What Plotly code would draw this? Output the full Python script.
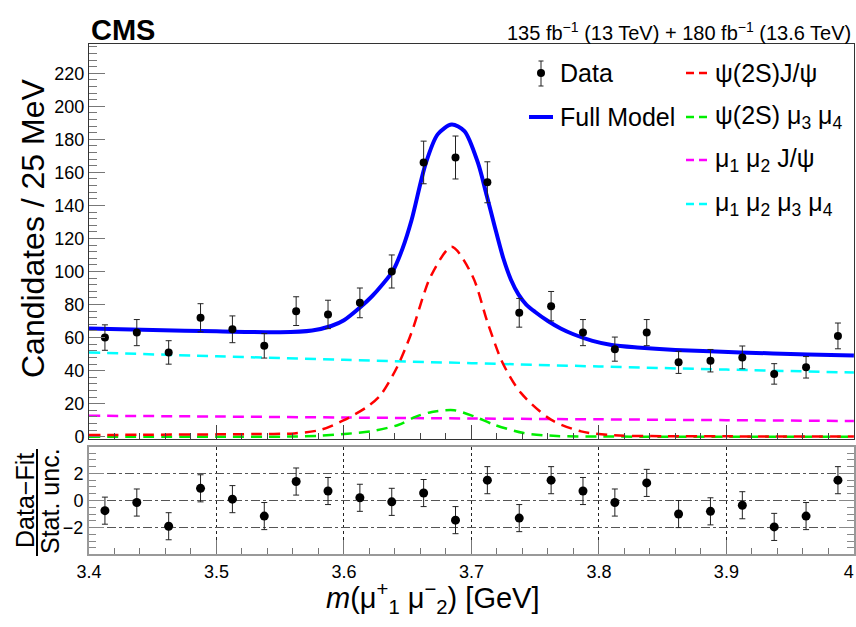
import plotly.graph_objects as go

# ---------------- data ----------------
bin_centers = [3.4125, 3.4375, 3.4625, 3.4875, 3.5125, 3.5375, 3.5625, 3.5875,
               3.6125, 3.6375, 3.6625, 3.6875, 3.7125, 3.7375, 3.7625, 3.7875,
               3.8125, 3.8375, 3.8625, 3.8875, 3.9125, 3.9375, 3.9625, 3.9875]
counts = [60, 63, 51, 72, 65, 55, 76, 74, 81, 100, 166, 169,
          154, 75, 79, 63, 53, 63, 45, 46, 48, 38, 42, 61]
count_err = [7.7, 7.9, 7.1, 8.5, 8.1, 7.4, 8.7, 8.6, 9.0, 10.0, 12.9, 13.0,
             12.4, 8.7, 8.9, 7.9, 7.3, 7.9, 6.7, 6.8, 6.9, 6.2, 6.5, 7.8]
pulls = [-0.75, -0.15, -1.9, 0.9, 0.1, -1.15, 1.4, 0.7, 0.2, -0.1, 0.55, -1.45,
         1.5, -1.3, 1.5, 0.7, -0.15, 1.3, -1.0, -0.8, -0.35, -1.95, -1.15, 1.5]
pull_err = [1.0, 1.0, 1.0, 1.0, 1.0, 1.0, 1.0, 1.0, 1.0, 1.0, 1.0, 1.0,
            1.0, 1.0, 1.0, 1.0, 1.0, 1.0, 1.0, 1.0, 1.0, 1.0, 1.0, 1.0]

full_x = [3.400, 3.450, 3.500, 3.550, 3.575, 3.590, 3.600, 3.613, 3.622, 3.630,
          3.6385, 3.646, 3.653, 3.664, 3.6735, 3.6845, 3.6945, 3.705, 3.712,
          3.718, 3.725, 3.731, 3.737, 3.743, 3.750, 3.760, 3.770, 3.780,
          3.795, 3.810, 3.830, 3.860, 3.911, 3.964, 4.000]
full_y = [65.5, 64.6, 63.8, 63.2, 64.3, 67.0, 70.5, 78.5, 85.0, 92.0,
          100.5, 114.0, 131.0, 165.0, 183.0, 189.0, 185.0, 166.0, 146.0,
          128.0, 108.0, 95.0, 86.0, 80.0, 75.5, 70.0, 65.5, 62.0,
          58.0, 55.5, 54.0, 52.5, 51.0, 49.8, 49.2]

sig_x = [3.400, 3.450, 3.500, 3.530, 3.561, 3.582, 3.600, 3.619, 3.629, 3.642,
         3.653, 3.663, 3.668, 3.6845, 3.701, 3.7127, 3.7245, 3.7388, 3.7624,
         3.786, 3.812, 3.850, 3.900, 4.000]
sig_y = [1.0, 1.2, 1.4, 1.6, 2.0, 4.2, 10.0, 18.5, 25.5, 42.6,
         63.0, 87.0, 97.0, 115.0, 97.0, 69.0, 44.6, 26.5, 10.3,
         3.2, 0.8, 0.3, 0.2, 0.1]

psi_mumu_x = [3.400, 3.500, 3.561, 3.582, 3.603, 3.621, 3.643, 3.656, 3.669,
              3.6865, 3.702, 3.718, 3.741, 3.767, 3.800, 3.900, 4.000]
psi_mumu_y = [0.0, 0.0, 0.1, 0.6, 1.8, 3.2, 7.2, 12.0, 15.0,
              16.0, 12.3, 7.2, 2.2, 0.4, 0.1, 0.0, 0.0]

mumu_jpsi_x = [3.4, 3.5, 3.6, 3.7, 3.8, 3.9, 4.0]
mumu_jpsi_y = [12.7, 12.2, 11.6, 11.0, 10.5, 10.0, 9.5]

mumu_mumu_x = [3.4, 3.5, 3.6, 3.7, 3.8, 3.9, 4.0]
mumu_mumu_y = [51.0, 48.7, 46.5, 44.5, 42.5, 40.6, 38.8]

x_tickvals = [3.4, 3.5, 3.6, 3.7, 3.8, 3.9, 4.0]
x_ticktext = ["3.4", "3.5", "3.6", "3.7", "3.8", "3.9", "4\u00a0\u00a0"]
y_tickvals = [0, 20, 40, 60, 80, 100, 120, 140, 160, 180, 200, 220]
pull_tickvals = [-2, 0, 2]
pull_ticktext = ["\u22122", "0", "2"]

# ---------------- styling helpers ----------------
W, H = 856, 627
L, R, T, B = 89, 2, 44, 73
PW, PH = W - L - R, H - T - B
FONT = "Liberation Sans, Arial, sans-serif"
X_RANGE = [3.4, 4.0001]


def px(p):
    return (p - L) / PW


def py(p):
    return (H - B - p) / PH


DASH = "11px,7px"

fig = go.Figure()

curves = [
    (mumu_mumu_x, mumu_mumu_y, "#00ffff"),
    (mumu_jpsi_x, mumu_jpsi_y, "#ff00ff"),
    (psi_mumu_x, psi_mumu_y, "#00ee00"),
    (sig_x, sig_y, "#ff0000"),
]
for cx, cy, col in curves:
    fig.add_trace(go.Scatter(x=cx, y=cy, mode="lines", xaxis="x", yaxis="y",
                             line=dict(color=col, width=2.5, dash=DASH, shape="spline", smoothing=0.8),
                             showlegend=False, hoverinfo="skip"))

fig.add_trace(go.Scatter(x=full_x, y=full_y, mode="lines", xaxis="x", yaxis="y",
                         line=dict(color="#0000ff", width=4, shape="spline", smoothing=0.8),
                         showlegend=False, hoverinfo="skip"))

fig.add_trace(go.Scatter(x=bin_centers, y=counts, mode="markers", xaxis="x", yaxis="y",
                         marker=dict(color="black", size=8),
                         error_y=dict(type="data", array=count_err, color="#222", thickness=1, width=3),
                         showlegend=False))

fig.add_trace(go.Scatter(x=bin_centers, y=pulls, mode="markers", xaxis="x2", yaxis="y2",
                         marker=dict(color="black", size=9),
                         error_y=dict(type="data", array=pull_err, color="#222", thickness=1, width=3),
                         showlegend=False))

tickfont = dict(family=FONT, size=18, color="black")

main_bottom = 439
low_top = 447
fig.update_layout(
    width=W, height=H, autosize=False,
    margin=dict(l=L, r=R, t=T, b=B, autoexpand=False),
    paper_bgcolor="white", plot_bgcolor="white",
    showlegend=False,
    xaxis=dict(domain=[0, 1], anchor="y", range=X_RANGE, matches="x2", automargin=False,
               showticklabels=False, showline=True, mirror=True, linecolor="#333", linewidth=1,
               ticks="inside", ticklen=14, tickcolor="#444", tickvals=x_tickvals,
               minor=dict(ticks="inside", ticklen=6, dtick=0.02, tick0=3.4, tickcolor="#444"),
               showgrid=False, zeroline=False),
    yaxis=dict(domain=[py(main_bottom), 1], anchor="x", range=[-1.4, 237.7], automargin=False,
               showline=True, mirror=True, linecolor="#333", linewidth=1,
               ticks="inside", ticklen=16, tickcolor="#777", tickvals=y_tickvals,
               minor=dict(ticks="inside", ticklen=8, dtick=4, tick0=0, tickcolor="#777"),
               tickfont=tickfont, showgrid=False, zeroline=False),
    xaxis2=dict(domain=[0, 1], anchor="y2", range=X_RANGE, automargin=False,
                showline=True, mirror=True, linecolor="#999", linewidth=2,
                ticks="inside", ticklen=14, tickcolor="#777",
                tickvals=x_tickvals, ticktext=x_ticktext, tickfont=tickfont,
                ticklabeloverflow="allow",
                minor=dict(ticks="inside", ticklen=6, dtick=0.02, tick0=3.4, tickcolor="#777"),
                showgrid=True, gridcolor="#222", griddash="dot", gridwidth=1, zeroline=False),
    yaxis2=dict(domain=[0, py(low_top)], anchor="x2", range=[-3.95, 3.95], automargin=False,
                showline=True, mirror="allticks", linecolor="#999", linewidth=2,
                ticks="inside", ticklen=15, tickcolor="#888",
                tickvals=pull_tickvals, ticktext=pull_ticktext, tickfont=tickfont,
                minor=dict(ticks="inside", ticklen=7, dtick=0.5, tick0=0, tickcolor="#888"),
                showgrid=True, gridcolor="#555", griddash="dashdot", gridwidth=1, zeroline=False),
)

ann = []
shapes = []

# header
ann.append(dict(text="<b>CMS</b>", x=px(89), y=py(30), xref="paper", yref="paper",
                xanchor="left", yanchor="middle", showarrow=False,
                font=dict(family=FONT, size=29, color="black")))
ann.append(dict(text="135 fb<sup>\u22121</sup> (13 TeV) + 180 fb<sup>\u22121</sup> (13.6 TeV)",
                x=px(853), y=py(31), xref="paper", yref="paper",
                xanchor="right", yanchor="middle", showarrow=False,
                font=dict(family=FONT, size=20, color="black")))

# axis titles
ann.append(dict(text="Candidates / 25 MeV", x=px(33), y=py(228), xref="paper", yref="paper",
                textangle=-90, xanchor="center", yanchor="middle", showarrow=False,
                font=dict(family=FONT, size=32, color="black")))
ann.append(dict(text="<i>m</i>(\u03bc<sup>+</sup><sub>1</sub> \u03bc<sup>\u2212</sup><sub>2</sub>) [GeV]",
                x=px(432), y=py(598), xref="paper", yref="paper",
                xanchor="center", yanchor="middle", showarrow=False,
                font=dict(family=FONT, size=29, color="black")))
ann.append(dict(text="Data\u2212Fit", x=px(25), y=py(501), xref="paper", yref="paper",
                textangle=-90, xanchor="center", yanchor="middle", showarrow=False,
                font=dict(family=FONT, size=25, color="black")))
ann.append(dict(text="Stat. unc.", x=px(50), y=py(501), xref="paper", yref="paper",
                textangle=-90, xanchor="center", yanchor="middle", showarrow=False,
                font=dict(family=FONT, size=25, color="black")))
shapes.append(dict(type="line", xref="paper", yref="paper", x0=px(37), x1=px(37),
                   y0=py(449), y1=py(556), line=dict(color="black", width=2)))

# legend
leg_font = dict(family=FONT, size=25, color="black")
rows = [73, 117, 160, 204]
ann.append(dict(text="Data", x=px(558), y=py(rows[0]), xref="paper", yref="paper",
                xanchor="left", yanchor="middle", showarrow=False, font=leg_font))
ann.append(dict(text="Full Model", x=px(558), y=py(rows[1]), xref="paper", yref="paper",
                xanchor="left", yanchor="middle", showarrow=False, font=leg_font))
# data cue
shapes.append(dict(type="line", xref="paper", yref="paper", x0=px(541), x1=px(541),
                   y0=py(61), y1=py(86), line=dict(color="#222", width=1)))
for cy in (61, 86):
    shapes.append(dict(type="line", xref="paper", yref="paper", x0=px(538.5), x1=px(543.5),
                       y0=py(cy), y1=py(cy), line=dict(color="#222", width=1)))
shapes.append(dict(type="circle", xref="paper", yref="paper", x0=px(537), x1=px(545),
                   y0=py(77), y1=py(69), fillcolor="black", line=dict(color="black", width=0)))
shapes.append(dict(type="line", xref="paper", yref="paper", x0=px(529), x1=px(553),
                   y0=py(rows[1]), y1=py(rows[1]), line=dict(color="#0000ff", width=4)))

leg2 = [("\u03c8(2S)J/\u03c8", "#ff0000"),
        ("\u03c8(2S) \u03bc<sub>3</sub> \u03bc<sub>4</sub>", "#00ee00"),
        ("\u03bc<sub>1</sub> \u03bc<sub>2</sub> J/\u03c8", "#ff00ff"),
        ("\u03bc<sub>1</sub> \u03bc<sub>2</sub> \u03bc<sub>3</sub> \u03bc<sub>4</sub>", "#00ffff")]
for (txt, col), ry in zip(leg2, rows):
    shapes.append(dict(type="line", xref="paper", yref="paper", x0=px(686), x1=px(711),
                       y0=py(ry), y1=py(ry), line=dict(color=col, width=2.5, dash="8px,5px")))
    ann.append(dict(text=txt, x=px(713), y=py(ry), xref="paper", yref="paper",
                    xanchor="left", yanchor="middle", showarrow=False, font=leg_font))

fig.update_layout(annotations=ann, shapes=shapes)
fig.write_html("out.html", config={"displayModeBar": False, "responsive": False},
               post_script="document.body.style.margin='0px';")
